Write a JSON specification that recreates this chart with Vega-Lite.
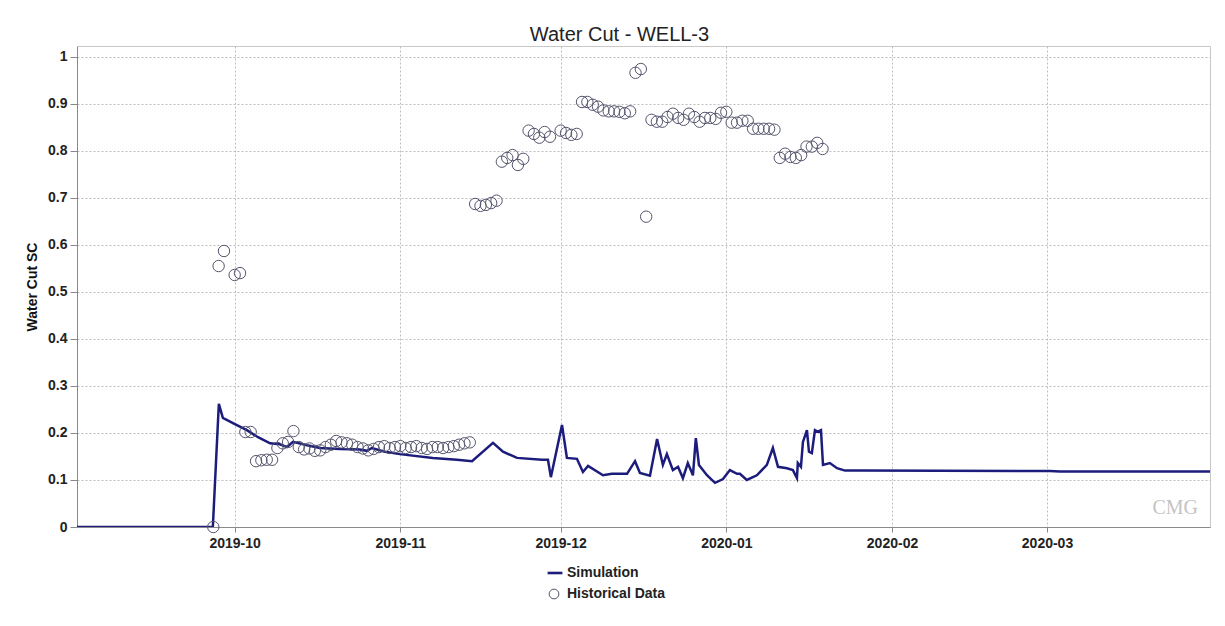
{
  "$schema": "https://vega.github.io/schema/vega-lite/v6.json",
  "width": 1133,
  "height": 481,
  "autosize": {"type": "none"},
  "padding": {"left": 77, "top": 46, "right": 15, "bottom": 99},
  "background": "white",
  "title": {"text": "Water Cut - WELL-3", "fontSize": 20, "fontWeight": "normal", "color": "#222", "offset": 1, "dx": -24},
  "config": {
    "font": "Liberation Sans",
    "view": {"stroke": "#c8c8c8"},
    "axis": {
      "labelFont": "Liberation Sans", "labelFontSize": 14, "labelFontWeight": "bold", "labelColor": "#222",
      "titleFont": "Liberation Sans", "titleFontSize": 14, "titleFontWeight": "bold", "titleColor": "#111",
      "domainColor": "#8a8a8a", "tickColor": "#8a8a8a", "gridColor": "#bdbdbd", "gridDash": [2, 2], "gridWidth": 1
    },
    "legend": {"labelFont": "Liberation Sans", "labelFontSize": 14, "labelFontWeight": "bold", "labelColor": "#222"}
  },
  "datasets": {
    "sim": [
      {"date": "2019-09-01T12:00:00Z", "value": 0, "series": "Simulation"},
      {"date": "2019-09-26T22:00:00Z", "value": 0, "series": "Simulation"},
      {"date": "2019-09-28T01:00:00Z", "value": 0.262, "series": "Simulation"},
      {"date": "2019-09-28T19:00:00Z", "value": 0.232, "series": "Simulation"},
      {"date": "2019-10-01T01:00:00Z", "value": 0.219, "series": "Simulation"},
      {"date": "2019-10-03T07:00:00Z", "value": 0.206, "series": "Simulation"},
      {"date": "2019-10-05T09:00:00Z", "value": 0.191, "series": "Simulation"},
      {"date": "2019-10-07T15:00:00Z", "value": 0.178, "series": "Simulation"},
      {"date": "2019-10-09T11:00:00Z", "value": 0.176, "series": "Simulation"},
      {"date": "2019-10-10T19:00:00Z", "value": 0.170, "series": "Simulation"},
      {"date": "2019-10-11T22:00:00Z", "value": 0.181, "series": "Simulation"},
      {"date": "2019-10-14T13:00:00Z", "value": 0.174, "series": "Simulation"},
      {"date": "2019-10-16T23:00:00Z", "value": 0.168, "series": "Simulation"},
      {"date": "2019-10-20T17:00:00Z", "value": 0.166, "series": "Simulation"},
      {"date": "2019-10-24T10:00:00Z", "value": 0.165, "series": "Simulation"},
      {"date": "2019-10-25T18:00:00Z", "value": 0.162, "series": "Simulation"},
      {"date": "2019-10-26T16:00:00Z", "value": 0.168, "series": "Simulation"},
      {"date": "2019-10-29T03:00:00Z", "value": 0.160, "series": "Simulation"},
      {"date": "2019-10-31T22:00:00Z", "value": 0.155, "series": "Simulation"},
      {"date": "2019-11-07T02:00:00Z", "value": 0.147, "series": "Simulation"},
      {"date": "2019-11-11T14:00:00Z", "value": 0.143, "series": "Simulation"},
      {"date": "2019-11-14T10:00:00Z", "value": 0.140, "series": "Simulation"},
      {"date": "2019-11-18T08:00:00Z", "value": 0.179, "series": "Simulation"},
      {"date": "2019-11-20T05:00:00Z", "value": 0.160, "series": "Simulation"},
      {"date": "2019-11-22T20:00:00Z", "value": 0.147, "series": "Simulation"},
      {"date": "2019-11-27T12:00:00Z", "value": 0.143, "series": "Simulation"},
      {"date": "2019-11-28T15:00:00Z", "value": 0.143, "series": "Simulation"},
      {"date": "2019-11-29T04:00:00Z", "value": 0.106, "series": "Simulation"},
      {"date": "2019-12-01T06:00:00Z", "value": 0.217, "series": "Simulation"},
      {"date": "2019-12-02T04:00:00Z", "value": 0.147, "series": "Simulation"},
      {"date": "2019-12-04T01:00:00Z", "value": 0.145, "series": "Simulation"},
      {"date": "2019-12-05T04:00:00Z", "value": 0.117, "series": "Simulation"},
      {"date": "2019-12-06T03:00:00Z", "value": 0.130, "series": "Simulation"},
      {"date": "2019-12-08T22:00:00Z", "value": 0.110, "series": "Simulation"},
      {"date": "2019-12-10T14:00:00Z", "value": 0.113, "series": "Simulation"},
      {"date": "2019-12-13T10:00:00Z", "value": 0.113, "series": "Simulation"},
      {"date": "2019-12-14T22:00:00Z", "value": 0.140, "series": "Simulation"},
      {"date": "2019-12-15T20:00:00Z", "value": 0.115, "series": "Simulation"},
      {"date": "2019-12-17T17:00:00Z", "value": 0.109, "series": "Simulation"},
      {"date": "2019-12-19T01:00:00Z", "value": 0.187, "series": "Simulation"},
      {"date": "2019-12-20T03:00:00Z", "value": 0.132, "series": "Simulation"},
      {"date": "2019-12-20T21:00:00Z", "value": 0.155, "series": "Simulation"},
      {"date": "2019-12-22T00:00:00Z", "value": 0.121, "series": "Simulation"},
      {"date": "2019-12-22T23:00:00Z", "value": 0.128, "series": "Simulation"},
      {"date": "2019-12-23T21:00:00Z", "value": 0.104, "series": "Simulation"},
      {"date": "2019-12-24T19:00:00Z", "value": 0.136, "series": "Simulation"},
      {"date": "2019-12-25T18:00:00Z", "value": 0.110, "series": "Simulation"},
      {"date": "2019-12-26T07:00:00Z", "value": 0.189, "series": "Simulation"},
      {"date": "2019-12-26T21:00:00Z", "value": 0.132, "series": "Simulation"},
      {"date": "2019-12-28T09:00:00Z", "value": 0.110, "series": "Simulation"},
      {"date": "2019-12-29T21:00:00Z", "value": 0.094, "series": "Simulation"},
      {"date": "2019-12-31T09:00:00Z", "value": 0.102, "series": "Simulation"},
      {"date": "2020-01-01T16:00:00Z", "value": 0.121, "series": "Simulation"},
      {"date": "2020-01-03T00:00:00Z", "value": 0.113, "series": "Simulation"},
      {"date": "2020-01-03T13:00:00Z", "value": 0.113, "series": "Simulation"},
      {"date": "2020-01-04T20:00:00Z", "value": 0.100, "series": "Simulation"},
      {"date": "2020-01-06T17:00:00Z", "value": 0.110, "series": "Simulation"},
      {"date": "2020-01-08T14:00:00Z", "value": 0.132, "series": "Simulation"},
      {"date": "2020-01-09T17:00:00Z", "value": 0.168, "series": "Simulation"},
      {"date": "2020-01-10T16:00:00Z", "value": 0.128, "series": "Simulation"},
      {"date": "2020-01-12T08:00:00Z", "value": 0.125, "series": "Simulation"},
      {"date": "2020-01-13T11:00:00Z", "value": 0.121, "series": "Simulation"},
      {"date": "2020-01-14T05:00:00Z", "value": 0.104, "series": "Simulation"},
      {"date": "2020-01-14T09:00:00Z", "value": 0.136, "series": "Simulation"},
      {"date": "2020-01-14T23:00:00Z", "value": 0.128, "series": "Simulation"},
      {"date": "2020-01-15T08:00:00Z", "value": 0.181, "series": "Simulation"},
      {"date": "2020-01-16T02:00:00Z", "value": 0.206, "series": "Simulation"},
      {"date": "2020-01-16T11:00:00Z", "value": 0.160, "series": "Simulation"},
      {"date": "2020-01-17T00:00:00Z", "value": 0.157, "series": "Simulation"},
      {"date": "2020-01-17T14:00:00Z", "value": 0.206, "series": "Simulation"},
      {"date": "2020-01-18T03:00:00Z", "value": 0.203, "series": "Simulation"},
      {"date": "2020-01-18T17:00:00Z", "value": 0.206, "series": "Simulation"},
      {"date": "2020-01-19T02:00:00Z", "value": 0.132, "series": "Simulation"},
      {"date": "2020-01-20T09:00:00Z", "value": 0.136, "series": "Simulation"},
      {"date": "2020-01-21T17:00:00Z", "value": 0.125, "series": "Simulation"},
      {"date": "2020-01-23T05:00:00Z", "value": 0.120, "series": "Simulation"},
      {"date": "2020-01-26T00:00:00Z", "value": 0.120, "series": "Simulation"},
      {"date": "2020-03-01T13:00:00Z", "value": 0.119, "series": "Simulation"},
      {"date": "2020-03-03T10:00:00Z", "value": 0.118, "series": "Simulation"},
      {"date": "2020-03-31T12:00:00Z", "value": 0.118, "series": "Simulation"}
    ],
    "hist": [
      {"date": "2019-09-27T00:00:00Z", "value": 0, "series": "Historical Data"},
      {"date": "2019-09-28T00:00:00Z", "value": 0.555, "series": "Historical Data"},
      {"date": "2019-09-29T00:00:00Z", "value": 0.587, "series": "Historical Data"},
      {"date": "2019-10-01T00:00:00Z", "value": 0.536, "series": "Historical Data"},
      {"date": "2019-10-02T00:00:00Z", "value": 0.540, "series": "Historical Data"},
      {"date": "2019-10-03T00:00:00Z", "value": 0.202, "series": "Historical Data"},
      {"date": "2019-10-04T00:00:00Z", "value": 0.202, "series": "Historical Data"},
      {"date": "2019-10-05T00:00:00Z", "value": 0.140, "series": "Historical Data"},
      {"date": "2019-10-06T00:00:00Z", "value": 0.142, "series": "Historical Data"},
      {"date": "2019-10-07T00:00:00Z", "value": 0.143, "series": "Historical Data"},
      {"date": "2019-10-08T00:00:00Z", "value": 0.143, "series": "Historical Data"},
      {"date": "2019-10-09T00:00:00Z", "value": 0.168, "series": "Historical Data"},
      {"date": "2019-10-10T00:00:00Z", "value": 0.178, "series": "Historical Data"},
      {"date": "2019-10-11T00:00:00Z", "value": 0.181, "series": "Historical Data"},
      {"date": "2019-10-12T00:00:00Z", "value": 0.204, "series": "Historical Data"},
      {"date": "2019-10-13T00:00:00Z", "value": 0.170, "series": "Historical Data"},
      {"date": "2019-10-14T00:00:00Z", "value": 0.165, "series": "Historical Data"},
      {"date": "2019-10-15T00:00:00Z", "value": 0.167, "series": "Historical Data"},
      {"date": "2019-10-16T00:00:00Z", "value": 0.162, "series": "Historical Data"},
      {"date": "2019-10-17T00:00:00Z", "value": 0.163, "series": "Historical Data"},
      {"date": "2019-10-18T00:00:00Z", "value": 0.170, "series": "Historical Data"},
      {"date": "2019-10-19T00:00:00Z", "value": 0.175, "series": "Historical Data"},
      {"date": "2019-10-20T00:00:00Z", "value": 0.183, "series": "Historical Data"},
      {"date": "2019-10-21T00:00:00Z", "value": 0.180, "series": "Historical Data"},
      {"date": "2019-10-22T00:00:00Z", "value": 0.178, "series": "Historical Data"},
      {"date": "2019-10-23T00:00:00Z", "value": 0.175, "series": "Historical Data"},
      {"date": "2019-10-24T00:00:00Z", "value": 0.170, "series": "Historical Data"},
      {"date": "2019-10-25T00:00:00Z", "value": 0.167, "series": "Historical Data"},
      {"date": "2019-10-26T00:00:00Z", "value": 0.163, "series": "Historical Data"},
      {"date": "2019-10-27T00:00:00Z", "value": 0.166, "series": "Historical Data"},
      {"date": "2019-10-28T00:00:00Z", "value": 0.170, "series": "Historical Data"},
      {"date": "2019-10-29T00:00:00Z", "value": 0.172, "series": "Historical Data"},
      {"date": "2019-10-30T00:00:00Z", "value": 0.168, "series": "Historical Data"},
      {"date": "2019-10-31T00:00:00Z", "value": 0.170, "series": "Historical Data"},
      {"date": "2019-11-01T00:00:00Z", "value": 0.172, "series": "Historical Data"},
      {"date": "2019-11-02T00:00:00Z", "value": 0.168, "series": "Historical Data"},
      {"date": "2019-11-03T00:00:00Z", "value": 0.170, "series": "Historical Data"},
      {"date": "2019-11-04T00:00:00Z", "value": 0.172, "series": "Historical Data"},
      {"date": "2019-11-05T00:00:00Z", "value": 0.168, "series": "Historical Data"},
      {"date": "2019-11-06T00:00:00Z", "value": 0.166, "series": "Historical Data"},
      {"date": "2019-11-07T00:00:00Z", "value": 0.170, "series": "Historical Data"},
      {"date": "2019-11-08T00:00:00Z", "value": 0.170, "series": "Historical Data"},
      {"date": "2019-11-09T00:00:00Z", "value": 0.168, "series": "Historical Data"},
      {"date": "2019-11-10T00:00:00Z", "value": 0.170, "series": "Historical Data"},
      {"date": "2019-11-11T00:00:00Z", "value": 0.172, "series": "Historical Data"},
      {"date": "2019-11-12T00:00:00Z", "value": 0.175, "series": "Historical Data"},
      {"date": "2019-11-13T00:00:00Z", "value": 0.178, "series": "Historical Data"},
      {"date": "2019-11-14T00:00:00Z", "value": 0.180, "series": "Historical Data"},
      {"date": "2019-11-15T00:00:00Z", "value": 0.687, "series": "Historical Data"},
      {"date": "2019-11-16T00:00:00Z", "value": 0.683, "series": "Historical Data"},
      {"date": "2019-11-17T00:00:00Z", "value": 0.685, "series": "Historical Data"},
      {"date": "2019-11-18T00:00:00Z", "value": 0.689, "series": "Historical Data"},
      {"date": "2019-11-19T00:00:00Z", "value": 0.694, "series": "Historical Data"},
      {"date": "2019-11-20T00:00:00Z", "value": 0.777, "series": "Historical Data"},
      {"date": "2019-11-21T00:00:00Z", "value": 0.785, "series": "Historical Data"},
      {"date": "2019-11-22T00:00:00Z", "value": 0.791, "series": "Historical Data"},
      {"date": "2019-11-23T00:00:00Z", "value": 0.770, "series": "Historical Data"},
      {"date": "2019-11-24T00:00:00Z", "value": 0.783, "series": "Historical Data"},
      {"date": "2019-11-25T00:00:00Z", "value": 0.843, "series": "Historical Data"},
      {"date": "2019-11-26T00:00:00Z", "value": 0.836, "series": "Historical Data"},
      {"date": "2019-11-27T00:00:00Z", "value": 0.828, "series": "Historical Data"},
      {"date": "2019-11-28T00:00:00Z", "value": 0.840, "series": "Historical Data"},
      {"date": "2019-11-29T00:00:00Z", "value": 0.830, "series": "Historical Data"},
      {"date": "2019-12-01T00:00:00Z", "value": 0.843, "series": "Historical Data"},
      {"date": "2019-12-02T00:00:00Z", "value": 0.838, "series": "Historical Data"},
      {"date": "2019-12-03T00:00:00Z", "value": 0.834, "series": "Historical Data"},
      {"date": "2019-12-04T00:00:00Z", "value": 0.836, "series": "Historical Data"},
      {"date": "2019-12-05T00:00:00Z", "value": 0.904, "series": "Historical Data"},
      {"date": "2019-12-06T00:00:00Z", "value": 0.904, "series": "Historical Data"},
      {"date": "2019-12-07T00:00:00Z", "value": 0.898, "series": "Historical Data"},
      {"date": "2019-12-08T00:00:00Z", "value": 0.894, "series": "Historical Data"},
      {"date": "2019-12-09T00:00:00Z", "value": 0.886, "series": "Historical Data"},
      {"date": "2019-12-10T00:00:00Z", "value": 0.884, "series": "Historical Data"},
      {"date": "2019-12-11T00:00:00Z", "value": 0.884, "series": "Historical Data"},
      {"date": "2019-12-12T00:00:00Z", "value": 0.883, "series": "Historical Data"},
      {"date": "2019-12-13T00:00:00Z", "value": 0.880, "series": "Historical Data"},
      {"date": "2019-12-14T00:00:00Z", "value": 0.884, "series": "Historical Data"},
      {"date": "2019-12-15T00:00:00Z", "value": 0.966, "series": "Historical Data"},
      {"date": "2019-12-16T00:00:00Z", "value": 0.974, "series": "Historical Data"},
      {"date": "2019-12-17T00:00:00Z", "value": 0.660, "series": "Historical Data"},
      {"date": "2019-12-18T00:00:00Z", "value": 0.866, "series": "Historical Data"},
      {"date": "2019-12-19T00:00:00Z", "value": 0.862, "series": "Historical Data"},
      {"date": "2019-12-20T00:00:00Z", "value": 0.862, "series": "Historical Data"},
      {"date": "2019-12-21T00:00:00Z", "value": 0.872, "series": "Historical Data"},
      {"date": "2019-12-22T00:00:00Z", "value": 0.879, "series": "Historical Data"},
      {"date": "2019-12-23T00:00:00Z", "value": 0.870, "series": "Historical Data"},
      {"date": "2019-12-24T00:00:00Z", "value": 0.866, "series": "Historical Data"},
      {"date": "2019-12-25T00:00:00Z", "value": 0.879, "series": "Historical Data"},
      {"date": "2019-12-26T00:00:00Z", "value": 0.872, "series": "Historical Data"},
      {"date": "2019-12-27T00:00:00Z", "value": 0.862, "series": "Historical Data"},
      {"date": "2019-12-28T00:00:00Z", "value": 0.870, "series": "Historical Data"},
      {"date": "2019-12-29T00:00:00Z", "value": 0.870, "series": "Historical Data"},
      {"date": "2019-12-30T00:00:00Z", "value": 0.868, "series": "Historical Data"},
      {"date": "2019-12-31T00:00:00Z", "value": 0.881, "series": "Historical Data"},
      {"date": "2020-01-01T00:00:00Z", "value": 0.883, "series": "Historical Data"},
      {"date": "2020-01-02T00:00:00Z", "value": 0.860, "series": "Historical Data"},
      {"date": "2020-01-03T00:00:00Z", "value": 0.860, "series": "Historical Data"},
      {"date": "2020-01-04T00:00:00Z", "value": 0.864, "series": "Historical Data"},
      {"date": "2020-01-05T00:00:00Z", "value": 0.864, "series": "Historical Data"},
      {"date": "2020-01-06T00:00:00Z", "value": 0.847, "series": "Historical Data"},
      {"date": "2020-01-07T00:00:00Z", "value": 0.847, "series": "Historical Data"},
      {"date": "2020-01-08T00:00:00Z", "value": 0.847, "series": "Historical Data"},
      {"date": "2020-01-09T00:00:00Z", "value": 0.847, "series": "Historical Data"},
      {"date": "2020-01-10T00:00:00Z", "value": 0.845, "series": "Historical Data"},
      {"date": "2020-01-11T00:00:00Z", "value": 0.785, "series": "Historical Data"},
      {"date": "2020-01-12T00:00:00Z", "value": 0.794, "series": "Historical Data"},
      {"date": "2020-01-13T00:00:00Z", "value": 0.787, "series": "Historical Data"},
      {"date": "2020-01-14T00:00:00Z", "value": 0.785, "series": "Historical Data"},
      {"date": "2020-01-15T00:00:00Z", "value": 0.791, "series": "Historical Data"},
      {"date": "2020-01-16T00:00:00Z", "value": 0.809, "series": "Historical Data"},
      {"date": "2020-01-17T00:00:00Z", "value": 0.809, "series": "Historical Data"},
      {"date": "2020-01-18T00:00:00Z", "value": 0.817, "series": "Historical Data"},
      {"date": "2020-01-19T00:00:00Z", "value": 0.804, "series": "Historical Data"}
    ]
  },
  "encoding": {
    "x": {
      "field": "date", "type": "temporal",
      "scale": {"type": "utc", "domain": [{"year": 2019, "month": 9, "date": 1, "hours": 12, "utc": true}, {"year": 2020, "month": 3, "date": 31, "hours": 12, "utc": true}]},
      "axis": {
        "title": null, "format": "%Y-%m", "grid": true, "tickSize": 5, "labelPadding": 4,
        "values": [
          {"year": 2019, "month": 10, "date": 1, "utc": true},
          {"year": 2019, "month": 11, "date": 1, "utc": true},
          {"year": 2019, "month": 12, "date": 1, "utc": true},
          {"year": 2020, "month": 1, "date": 1, "utc": true},
          {"year": 2020, "month": 2, "date": 1, "utc": true},
          {"year": 2020, "month": 3, "date": 1, "utc": true}
        ]
      }
    },
    "y": {
      "field": "value", "type": "quantitative",
      "scale": {"domain": [0, 1.023], "nice": false, "zero": true},
      "axis": {"title": "Water Cut SC", "values": [0, 0.1, 0.2, 0.3, 0.4, 0.5, 0.6, 0.7, 0.8, 0.9, 1], "format": "~g", "tickSize": 7, "labelPadding": 3, "titlePadding": 8, "grid": true}
    }
  },
  "layer": [
    {
      "data": {"name": "sim"},
      "mark": {"type": "line", "strokeWidth": 2.5, "clip": true},
      "encoding": {
        "color": {
          "field": "series", "type": "nominal",
          "scale": {"domain": ["Simulation"], "range": ["#1c1c7c"]},
          "legend": {
            "orient": "none", "legendX": 469, "legendY": 518, "title": null,
            "symbolType": "stroke", "symbolSize": 220, "symbolStrokeWidth": 2.6, "labelOffset": 3
          }
        }
      }
    },
    {
      "data": {"name": "hist"},
      "mark": {"type": "point", "filled": false, "size": 130, "strokeWidth": 1, "opacity": 1, "color": "#55556e"},
      "encoding": {
        "shape": {
          "field": "series", "type": "nominal",
          "scale": {"domain": ["Historical Data"], "range": ["circle"]},
          "legend": {
            "orient": "none", "legendX": 470, "legendY": 541, "title": null,
            "symbolSize": 95, "symbolStrokeWidth": 1, "symbolStrokeColor": "#55556e", "labelOffset": 6
          }
        }
      }
    },
    {
      "data": {"values": [{"date": "2020-03-25T00:00:00Z", "value": 0.04, "logo": "CMG"}]},
      "mark": {"type": "text", "fontSize": 20, "color": "#c4c4c4", "font": "Liberation Serif"},
      "encoding": {
        "text": {"field": "logo", "type": "nominal"}
      }
    }
  ]
}
